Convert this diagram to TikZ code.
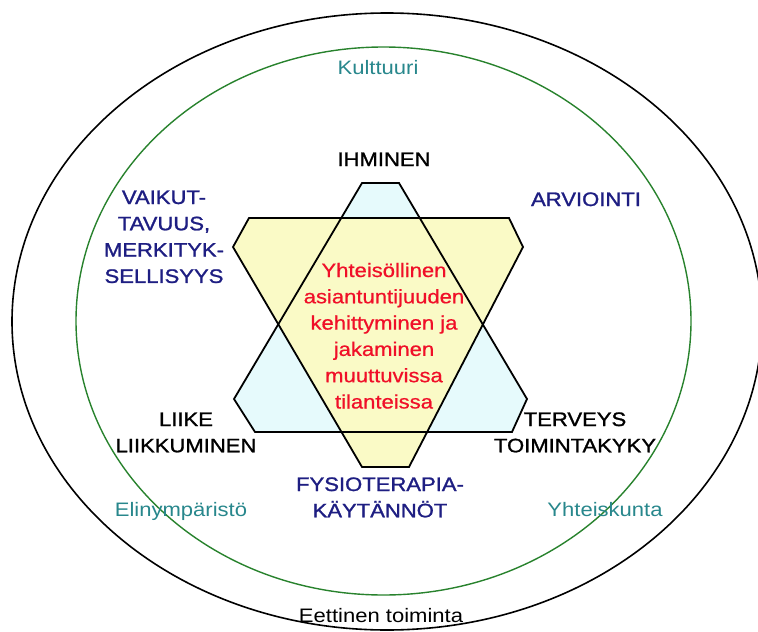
\documentclass[tikz,border=0pt]{standalone}
\usepackage{fontspec}
\usepackage{graphicx}
\setmainfont{Liberation Sans}
\newfontfamily\heavyfont[FakeBold=1.2]{Liberation Sans}
\newfontfamily\midfont[FakeBold=0.6]{Liberation Sans}
\newcommand{\mlines}[1]{\scalebox{1.13}[1]{\begin{tabular}[t]{@{}c@{}}#1\end{tabular}}}
\definecolor{navytxt}{RGB}{30,30,130}
\definecolor{redtxt}{RGB}{240,15,40}
\definecolor{tealtxt}{RGB}{40,135,140}
\definecolor{ringgreen}{RGB}{40,130,45}
\definecolor{yelfill}{RGB}{250,250,198}
\definecolor{bluefill}{RGB}{230,250,252}
\tikzset{
  lbl/.style={inner sep=0pt, anchor=base, font=\fontsize{19.5}{26.3}\selectfont},
  caps/.style={lbl, font=\fontsize{19.5}{26.3}\selectfont\heavyfont},
  core/.style={lbl, font=\fontsize{19.5}{26.3}\selectfont\midfont},
  outline/.style={draw=black, line width=1.8pt, line join=miter},
}
\begin{document}
\begin{tikzpicture}[x=1pt,y=-1pt]
\useasboundingbox (0,0) rectangle (758,632);
% rings
\draw[black, line width=1.6pt] (387,321.5) ellipse [x radius=375, y radius=308.5];
\draw[ringgreen, line width=1.4pt] (383.5,321) ellipse [x radius=307.5, y radius=274];
% fills
\fill[bluefill] (362,183) -- (399,183) -- (527,399) -- (512,432) -- (255,432) -- (234,399) -- cycle;
\fill[yelfill] (249,218) -- (509,218) -- (523,247) -- (409,467) -- (362,467) -- (233,247) -- cycle;
% outlines
\draw[outline] (362,183) -- (399,183) -- (527,399) -- (512,432) -- (255,432) -- (234,399) -- cycle;
\draw[outline] (249,218) -- (509,218) -- (523,247) -- (409,467) -- (362,467) -- (233,247) -- cycle;
% labels
\node[caps, text=black] (ihminen) at (384,166) {\mlines{IHMINEN}};
\node[caps, text=navytxt] (arviointi) at (586,206) {\mlines{ARVIOINTI}};
\node[caps, text=navytxt] (vaikut) at (164,204) {\mlines{VAIKUT-\\TAVUUS,\\MERKITYK-\\SELLISYYS}};
\node[caps, text=black] (liike) at (186,426) {\mlines{LIIKE\\LIIKKUMINEN}};
\node[caps, text=black] (terveys) at (575,426) {\mlines{TERVEYS\\TOIMINTAKYKY}};
\node[caps, text=navytxt] (fysio) at (380,491) {\mlines{FYSIOTERAPIA-\\KÄYTÄNNÖT}};
\node[core, text=redtxt] (core) at (384,277) {\mlines{Yhteisöllinen\\asiantuntijuuden\\kehittyminen ja\\jakaminen\\muuttuvissa\\tilanteissa}};
\node[lbl, text=tealtxt] (kulttuuri) at (378,74) {\mlines{Kulttuuri}};
\node[lbl, text=tealtxt] (elin) at (181,516) {\mlines{Elinympäristö}};
\node[lbl, text=tealtxt] (yhteis) at (605,516) {\mlines{Yhteiskunta}};
\node[lbl, text=black] (eettinen) at (381,622) {\mlines{Eettinen toiminta}};
\end{tikzpicture}
\end{document}
